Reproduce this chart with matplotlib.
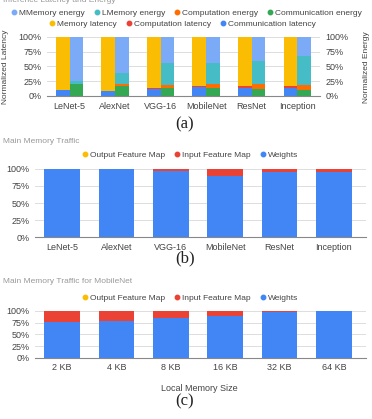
import numpy as np
import matplotlib.pyplot as plt
from matplotlib.lines import Line2D

plt.rcParams['font.family'] = ['Liberation Sans', 'DejaVu Sans']

# (a) inference latency and energy, percent
nets = ["LeNet-5", "AlexNet", "VGG-16", "MobileNet", "ResNet", "Inception"]
comm_lat = [10, 8, 11, 15, 13, 13]
comp_lat = [0.5, 1, 2, 2, 3, 4]
mem_lat = [89.5, 91, 87, 83, 84, 83]
comm_en = [20, 16, 13, 13, 12, 10]
comp_en = [1, 4, 6, 7, 8, 9]
lmem_en = [5, 19, 36, 36, 40, 48]
mmem_en = [74, 61, 45, 44, 40, 33]

# (b) main memory traffic, percent
weights_b = [99.8, 99.5, 97, 89, 96, 95]
ifm_b = [0.1, 0.3, 2.5, 10.5, 3.5, 4.5]
ofm_b = [0.1, 0.2, 0.5, 0.5, 0.5, 0.5]

# (c) main memory traffic for MobileNet vs local memory size, percent
mem_sizes = ["2 KB", "4 KB", "8 KB", "16 KB", "32 KB", "64 KB"]
weights_c = [77, 79, 84.5, 89, 98, 100]
ifm_c = [22.5, 20.5, 15, 10.5, 1.7, 0]
ofm_c = [0.5, 0.5, 0.5, 0.5, 0.3, 0]

C_MMEM = '#7BAAF7'
C_LMEM = '#46BDC6'
C_COMPE = '#FF6D01'
C_COMME = '#34A853'
C_MEML = '#FBBC04'
C_COMPL = '#EA4335'
C_COMML = '#4285F4'

TXT = '#444444'
GRAY = '#999999'
FS = 6.5
LFS = 6
yt = [0, 25, 50, 75, 100]
ytl = ["0%", "25%", "50%", "75%", "100%"]


def style(ax, labels):
    ax.set_ylim(0, 100)
    ax.set_yticks(yt)
    ax.set_yticklabels(ytl)
    ax.set_xticks(np.arange(len(labels)))
    ax.set_xticklabels(labels)
    ax.tick_params(length=0, labelsize=FS, colors=TXT, pad=4)
    ax.grid(axis='y', color='#dddddd', lw=0.7)
    ax.set_axisbelow(True)
    for s in ['top', 'right', 'left']:
        ax.spines[s].set_visible(False)
    ax.spines['bottom'].set_color('#888888')
    ax.spines['bottom'].set_linewidth(0.8)


def handle(c, lbl):
    return Line2D([], [], marker='o', ls='', color=c, markersize=3.2, label=lbl)


def legend(handles, y, x=0.5):
    fig.legend(handles=handles, loc='center', bbox_to_anchor=(x, y), ncol=len(handles),
               frameon=False, fontsize=LFS, handletextpad=0.15, columnspacing=1.0,
               borderpad=0, handlelength=0.9, labelcolor=TXT)


fig = plt.figure(figsize=(3.72, 4.19), dpi=100)

# ---- (a)
ax = fig.add_axes([0.126, 0.771, 0.734, 0.141])
x = np.arange(len(nets))
w = 0.3
xl = x - w / 2
xe = x + w / 2
ax.bar(xl, comm_lat, w, color=C_COMML)
ax.bar(xl, comp_lat, w, bottom=comm_lat, color=C_COMPL)
ax.bar(xl, mem_lat, w, bottom=np.add(comm_lat, comp_lat), color=C_MEML)
b = np.zeros(len(nets))
for vals, c in [(comm_en, C_COMME), (comp_en, C_COMPE), (lmem_en, C_LMEM), (mmem_en, C_MMEM)]:
    ax.bar(xe, vals, w, bottom=b, color=c)
    b = b + np.array(vals)
ax.set_xlim(-0.5, 5.5)
style(ax, nets)
ax2 = ax.twinx()
ax2.set_ylim(0, 100)
ax2.set_yticks(yt)
ax2.set_yticklabels(ytl)
ax2.tick_params(length=0, labelsize=FS, colors=TXT, pad=4)
for s in ax2.spines.values():
    s.set_visible(False)
fig.text(0.014, 0.84, "Normalized Latency", rotation=90, fontsize=6, color=TXT,
         ha='center', va='center')
fig.text(0.986, 0.84, "Normalized Energy", rotation=90, fontsize=6, color=TXT,
         ha='center', va='center')
fig.text(0.008, 0.999, "Inference Latency and Energy", fontsize=6, color=GRAY,
         ha='left', va='center')
legend([handle(C_MMEM, "MMemory energy"), handle(C_LMEM, "LMemory energy"),
        handle(C_COMPE, "Computation energy"), handle(C_COMME, "Communication energy")], 0.969)
legend([handle(C_MEML, "Memory latency"), handle(C_COMPL, "Computation latency"),
        handle(C_COMML, "Communication latency")], 0.943, x=0.49)
fig.text(0.497, 0.704, "(a)", family='Liberation Serif', fontsize=12, color='#222222',
         ha='center', va='center')


def traffic(rect, labels, wts, ifm, ofm, title, title_y, leg_y):
    a = fig.add_axes(rect)
    xx = np.arange(len(labels))
    bw = 0.66
    a.bar(xx, wts, bw, color=C_COMML)
    a.bar(xx, ifm, bw, bottom=wts, color=C_COMPL)
    a.bar(xx, ofm, bw, bottom=np.add(wts, ifm), color=C_MEML)
    a.set_xlim(-0.5, 5.6)
    style(a, labels)
    fig.text(0.008, title_y, title, fontsize=6, color=GRAY, ha='left', va='center')
    legend([handle(C_MEML, "Output Feature Map"), handle(C_COMPL, "Input Feature Map"),
            handle(C_COMML, "Weights")], leg_y, x=0.51)
    return a


# ---- (b)
traffic([0.094, 0.434, 0.891, 0.163], nets, weights_b, ifm_b, ofm_b,
        "Main Memory Traffic", 0.663, 0.630)
fig.text(0.497, 0.384, "(b)", family='Liberation Serif', fontsize=12, color='#222222',
         ha='center', va='center')

# ---- (c)
traffic([0.094, 0.146, 0.891, 0.112], mem_sizes, weights_c, ifm_c, ofm_c,
        "Main Memory Traffic for MobileNet", 0.327, 0.289)
fig.text(0.535, 0.072, "Local Memory Size", fontsize=FS, color=TXT, ha='center', va='center')
fig.text(0.497, 0.041, "(c)", family='Liberation Serif', fontsize=12, color='#222222',
         ha='center', va='center')

fig.savefig('out.png', dpi=100)
